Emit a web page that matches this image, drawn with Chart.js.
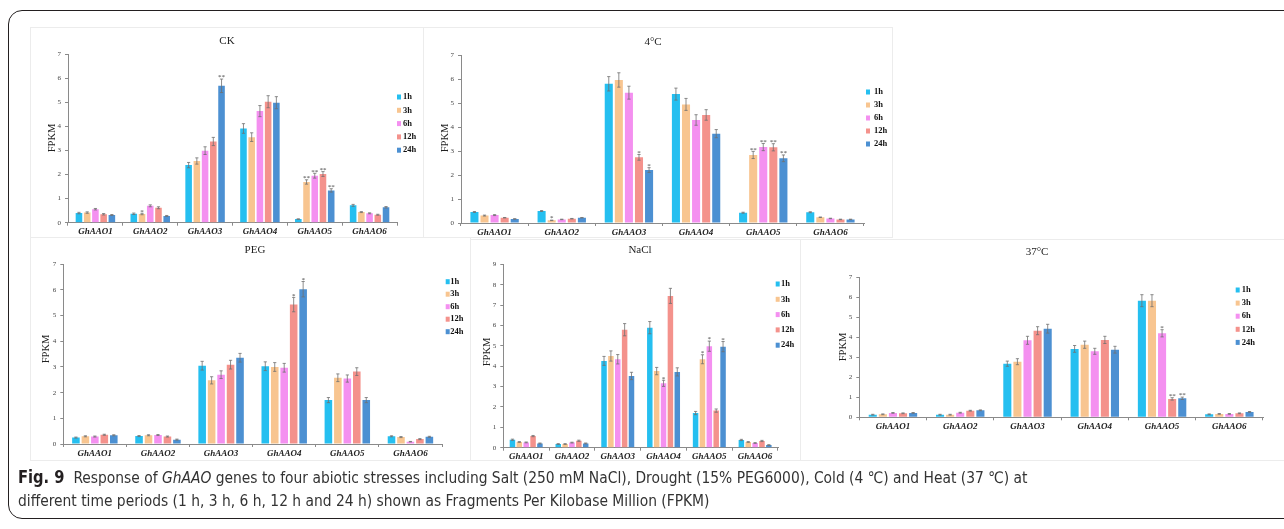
<!DOCTYPE html>
<html>
<head>
<meta charset="utf-8">
<script src="https://cdn.jsdelivr.net/npm/chart.js@4.4.1/dist/chart.umd.min.js"></script>
<style>
  html,body{margin:0;padding:0;background:#fff;}
  body{width:1284px;height:529px;overflow:hidden;position:relative;}
  .frame{position:absolute;left:8px;top:10px;width:1300px;height:509px;border:1.5px solid #231f20;border-radius:14px;box-sizing:border-box;}
  .box{position:absolute;border:1.5px solid #ececec;box-sizing:border-box;}
  canvas{position:absolute;}
  .cap{position:absolute;left:18px;top:466px;width:1300px;font-family:'Liberation Sans Narrow','DejaVu Sans Condensed','Roboto Condensed','DejaVu Sans',sans-serif;font-stretch:condensed;font-size:16px;line-height:23px;color:#333;transform:scaleX(0.962);transform-origin:0 0;white-space:nowrap;}
  .cap b{color:#231f20;font-size:17px;}
</style>
</head>
<body>
<div class="frame"></div>
<div class="box" style="left:30px;top:27px;width:394px;height:211px;"></div>
<div class="box" style="left:423px;top:27px;width:470px;height:211px;"></div>
<div class="box" style="left:30px;top:237px;width:441px;height:224px;"></div>
<div class="box" style="left:470px;top:239px;width:331px;height:222px;"></div>
<div class="box" style="left:800px;top:239px;width:500px;height:222px;"></div>

<canvas id="ck" width="393" height="212" style="left:30px;top:27px;"></canvas>
<canvas id="cold" width="469" height="212" style="left:423px;top:27px;"></canvas>
<canvas id="peg" width="440" height="222" style="left:30px;top:238px;"></canvas>
<canvas id="nacl" width="330" height="222" style="left:470px;top:240px;"></canvas>
<canvas id="heat" width="478" height="222" style="left:800px;top:240px;"></canvas>

<div class="cap"><b>Fig. 9</b>&nbsp; Response of <i>GhAAO</i> genes to four abiotic stresses including Salt (250 mM NaCl), Drought (15% PEG6000), Cold (4 ℃) and Heat (37 ℃) at<br>different time periods (1 h, 3 h, 6 h, 12 h and 24 h) shown as Fragments Per Kilobase Million (FPKM)</div>

<script>
// ---------- DATA ----------
const categories = ['GhAAO1','GhAAO2','GhAAO3','GhAAO4','GhAAO5','GhAAO6'];
const timeLabels = ['1h','3h','6h','12h','24h'];
const seriesColors = ['#25bff0','#f8c590','#f490f0','#f4928c','#4c90d2'];
const yTicks7 = [0,1,2,3,4,5,6,7];
const yTicks9 = [0,1,2,3,4,5,6,7,8,9];

// CK
const ckValues = [
  [0.40,0.37,2.39,3.91,0.15,0.72],
  [0.42,0.36,2.56,3.55,1.69,0.44],
  [0.56,0.70,2.99,4.63,1.95,0.39],
  [0.35,0.62,3.37,5.02,2.02,0.33],
  [0.32,0.28,5.68,4.98,1.34,0.64]
];
const ckErrors = [
  [0.03,0.03,0.11,0.20,0.01,0.04],
  [0.03,0.03,0.13,0.18,0.09,0.02],
  [0.03,0.04,0.16,0.23,0.10,0.02],
  [0.03,0.04,0.17,0.25,0.10,0.02],
  [0.02,0.02,0.28,0.25,0.07,0.03]
];
const ckStars = [
  ['','','','','',''],
  ['','*','','','**',''],
  ['','','','','**',''],
  ['','','','','**',''],
  ['','','**','','**','']
];

// 4°C
const coldValues = [
  [0.46,0.50,5.81,5.38,0.43,0.45],
  [0.31,0.11,5.97,4.95,2.84,0.24],
  [0.33,0.15,5.44,4.30,3.17,0.19],
  [0.22,0.18,2.74,4.51,3.16,0.15],
  [0.17,0.22,2.21,3.73,2.70,0.15]
];
const coldErrors = [
  [0.02,0.02,0.30,0.25,0.02,0.02],
  [0.02,0.01,0.30,0.25,0.15,0.01],
  [0.02,0.01,0.27,0.22,0.15,0.01],
  [0.01,0.01,0.12,0.22,0.15,0.01],
  [0.01,0.01,0.10,0.17,0.14,0.01]
];
const coldStars = [
  ['','','','','',''],
  ['','*','','','**',''],
  ['','','','','**',''],
  ['','','*','','**',''],
  ['','','*','','**','']
];

// PEG
const pegValues = [
  [0.25,0.31,3.05,3.03,1.71,0.30],
  [0.30,0.34,2.48,3.00,2.58,0.27],
  [0.29,0.35,2.70,2.97,2.55,0.09],
  [0.36,0.29,3.09,5.43,2.82,0.19],
  [0.34,0.17,3.36,6.03,1.71,0.28]
];
const pegErrors = [
  [0.02,0.02,0.17,0.17,0.10,0.02],
  [0.02,0.02,0.14,0.17,0.15,0.02],
  [0.02,0.02,0.15,0.17,0.14,0.01],
  [0.02,0.02,0.17,0.28,0.15,0.02],
  [0.02,0.02,0.17,0.30,0.10,0.02]
];
const pegStars = [
  ['','','','','',''],
  ['','','','','',''],
  ['','','','','',''],
  ['','','','*','',''],
  ['','','','*','','']
];

// NaCl
const naclValues = [
  [0.39,0.18,4.26,5.89,1.70,0.38],
  [0.28,0.18,4.50,3.76,4.34,0.28],
  [0.26,0.25,4.34,3.16,4.98,0.23],
  [0.57,0.34,5.79,7.45,1.82,0.33],
  [0.21,0.21,3.52,3.72,4.96,0.13]
];
const naclErrors = [
  [0.03,0.02,0.22,0.30,0.08,0.03],
  [0.02,0.02,0.25,0.18,0.22,0.02],
  [0.02,0.02,0.23,0.15,0.25,0.02],
  [0.03,0.03,0.30,0.37,0.08,0.03],
  [0.02,0.02,0.18,0.20,0.25,0.02]
];
const naclStars = [
  ['','','','','',''],
  ['','','','','*',''],
  ['','','','*','*',''],
  ['','','','','',''],
  ['','','','','*','']
];

// 37°C
const heatValues = [
  [0.13,0.13,2.68,3.42,5.83,0.15],
  [0.15,0.13,2.78,3.63,5.83,0.17],
  [0.22,0.23,3.85,3.30,4.20,0.17],
  [0.20,0.33,4.33,3.87,0.92,0.20],
  [0.22,0.35,4.43,3.38,0.95,0.27]
];
const heatErrors = [
  [0.02,0.02,0.13,0.17,0.30,0.02],
  [0.02,0.02,0.15,0.18,0.30,0.02],
  [0.02,0.02,0.20,0.15,0.18,0.02],
  [0.02,0.02,0.20,0.18,0.06,0.02],
  [0.02,0.02,0.22,0.17,0.06,0.02]
];
const heatStars = [
  ['','','','','',''],
  ['','','','','',''],
  ['','','','','*',''],
  ['','','','','**',''],
  ['','','','','**','']
];

// ---------- DRAWING ----------
const decoPlugin = {
  id: 'deco',
  afterDatasetsDraw(chart, args, o) {
    const ctx = chart.ctx, ys = chart.scales.y;
    ctx.save();
    chart.data.datasets.forEach((ds, di) => {
      const meta = chart.getDatasetMeta(di);
      meta.data.forEach((bar, i) => {
        const v = ds.data[i], e = ds.errors[i];
        const x = bar.x;
        const yt = ys.getPixelForValue(v + e);
        const yb = ys.getPixelForValue(Math.max(0, v - e));
        ctx.strokeStyle = '#707070';
        ctx.lineWidth = 0.8;
        ctx.beginPath();
        ctx.moveTo(x, yt); ctx.lineTo(x, yb);
        ctx.moveTo(x - 1.6, yt); ctx.lineTo(x + 1.6, yt);
        ctx.moveTo(x - 1.6, yb); ctx.lineTo(x + 1.6, yb);
        ctx.stroke();
        if (ds.stars[i]) {
          ctx.fillStyle = '#444';
          ctx.font = '7px "Liberation Serif"';
          ctx.textAlign = 'center';
          ctx.textBaseline = 'top';
          ctx.fillText(ds.stars[i], x, yt - 5);
        }
      });
    });
    // title
    ctx.fillStyle = '#222';
    ctx.font = '11px "Liberation Serif"';
    ctx.textAlign = 'center';
    ctx.textBaseline = 'middle';
    ctx.fillText(o.title, o.titleX, o.titleY);
    // y-axis title
    ctx.save();
    ctx.translate(o.fpkmX, o.fpkmY);
    ctx.rotate(-Math.PI / 2);
    ctx.font = '10.5px "Liberation Serif"';
    ctx.fillText('FPKM', 0, 0);
    ctx.restore();
    // legend
    chart.data.datasets.forEach((ds, di) => {
      const y = o.legY + di * o.legStep;
      ctx.fillStyle = ds.backgroundColor;
      ctx.fillRect(o.legX, y - 2.5, 4, 5);
      ctx.fillStyle = '#111';
      ctx.font = 'bold 8.5px "Liberation Serif"';
      ctx.textAlign = 'left';
      ctx.textBaseline = 'middle';
      ctx.fillText(ds.label, o.legTextX, y);
    });
    ctx.restore();
  }
};

function makePanel(id, values, errors, stars, ticks, cfg) {
  const datasets = timeLabels.map((t, si) => ({
    label: t,
    data: values[si],
    errors: errors[si],
    stars: stars[si],
    backgroundColor: seriesColors[si],
    borderWidth: 0,
    categoryPercentage: 0.75,
    barPercentage: 0.8
  }));
  new Chart(document.getElementById(id), {
    type: 'bar',
    data: { labels: categories, datasets },
    plugins: [decoPlugin],
    options: {
      responsive: false,
      animation: false,
      devicePixelRatio: 1,
      layout: { padding: { left: 0, top: cfg.pt, right: cfg.pr, bottom: cfg.pb } },
      plugins: {
        legend: { display: false },
        title: { display: false },
        tooltip: { enabled: false },
        deco: cfg.deco
      },
      scales: {
        x: {
          offset: true,
          grid: { offset: true, drawOnChartArea: false, drawTicks: true, tickLength: 3, color: '#8a8a8a' },
          border: { color: '#8a8a8a', width: 1 },
          ticks: { font: { family: 'Liberation Serif', style: 'italic', weight: 'bold', size: 9 }, color: '#222', padding: 1, maxRotation: 0, autoSkip: false },
          afterFit: s => { s.height = 14; }
        },
        y: {
          min: ticks[0],
          max: ticks[ticks.length - 1],
          afterBuildTicks: s => { s.ticks = ticks.map(v => ({ value: v })); },
          grid: { drawOnChartArea: false, drawTicks: true, tickLength: 3, color: '#8a8a8a' },
          border: { color: '#8a8a8a', width: 1 },
          ticks: { font: { family: 'Liberation Serif', size: 7 }, color: '#444', padding: 4 },
          afterFit: s => { s.width = cfg.yw; }
        }
      }
    }
  });
}

makePanel('ck', ckValues, ckErrors, ckStars, yTicks7, {
  yw: 38, pr: 26, pt: 27, pb: 2.3,
  deco: { title: 'CK', titleX: 197, titleY: 14, fpkmX: 22, fpkmY: 111, legX: 367, legTextX: 373, legY: 70, legStep: 13.3 }
});
makePanel('cold', coldValues, coldErrors, coldStars, yTicks7, {
  yw: 38, pr: 28, pt: 28.3, pb: 2,
  deco: { title: '4°C', titleX: 230, titleY: 15, fpkmX: 22, fpkmY: 111, legX: 443, legTextX: 451, legY: 65, legStep: 13 }
});
makePanel('peg', pegValues, pegErrors, pegStars, yTicks7, {
  yw: 33.3, pr: 28, pt: 26.3, pb: 2,
  deco: { title: 'PEG', titleX: 225, titleY: 12, fpkmX: 16, fpkmY: 111, legX: 415.7, legTextX: 420.3, legY: 43.7, legStep: 12.5 }
});
makePanel('nacl', naclValues, naclErrors, naclStars, yTicks9, {
  yw: 33.3, pr: 22, pt: 24.3, pb: 0.3,
  deco: { title: 'NaCl', titleX: 170, titleY: 10, fpkmX: 17, fpkmY: 112, legX: 305.7, legTextX: 311, legY: 44, legStep: 15.3 }
});
makePanel('heat', heatValues, heatErrors, heatStars, yTicks7, {
  yw: 59.3, pr: 15, pt: 37.3, pb: 30.7,
  deco: { title: '37°C', titleX: 237, titleY: 12, fpkmX: 43, fpkmY: 107, legX: 435.7, legTextX: 441.7, legY: 50, legStep: 13.1 }
});
</script>
</body>
</html>
